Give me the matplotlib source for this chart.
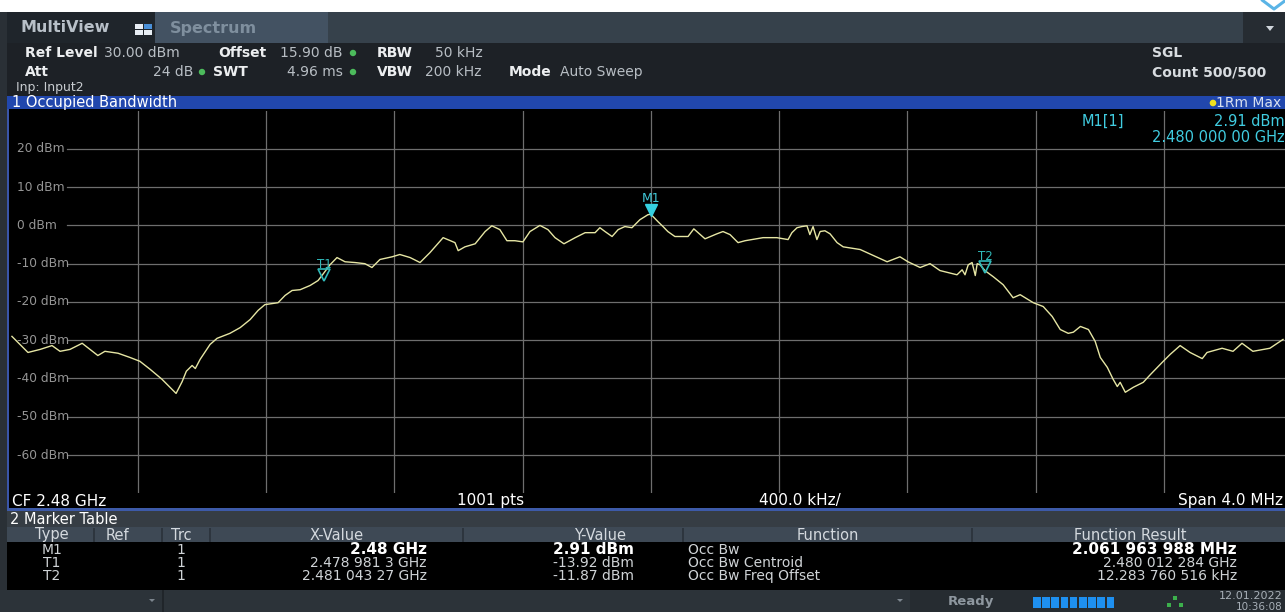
import matplotlib
matplotlib.use("Agg")
import matplotlib.pyplot as plt
from matplotlib.patches import Rectangle, Circle, Polygon
from matplotlib.transforms import ScaledTranslation, blended_transform_factory

# ---------------- data ----------------
center_ghz = 2.48
span_mhz = 4.0
div_khz = 400.0
ref_level = 30
y_bottom = -70
y_levels = [20, 10, 0, -10, -20, -30, -40, -50, -60]
y_labels = ["20 dBm", "10 dBm", "0 dBm", "-10 dBm", "-20 dBm", "-30 dBm",
            "-40 dBm", "-50 dBm", "-60 dBm"]

# trace: frequency offset from centre (MHz) and level (dBm)
freq_mhz = [-1.993, -1.968, -1.943, -1.905, -1.868, -1.843, -1.812, -1.774, -1.725, -1.703,
            -1.662, -1.625, -1.594, -1.562, -1.525, -1.500, -1.481, -1.462, -1.449, -1.431,
            -1.421, -1.406, -1.375, -1.353, -1.313, -1.281, -1.250, -1.225, -1.204, -1.163,
            -1.141, -1.119, -1.094, -1.063, -1.038, -1.026, -1.001, -0.979, -0.954, -0.923,
            -0.892, -0.870, -0.845, -0.807, -0.783, -0.751, -0.720, -0.689, -0.648, -0.611,
            -0.601, -0.580, -0.548, -0.517, -0.496, -0.471, -0.449, -0.424, -0.399, -0.377,
            -0.346, -0.321, -0.299, -0.271, -0.236, -0.205, -0.174, -0.159, -0.143, -0.121,
            -0.102, -0.081, -0.059, -0.034, -0.009, 0.000, 0.022, 0.038, 0.053, 0.075,
            0.091, 0.116, 0.134, 0.169, 0.206, 0.225, 0.247, 0.272, 0.294, 0.350,
            0.393, 0.428, 0.440, 0.456, 0.471, 0.487, 0.496, 0.506, 0.518, 0.528,
            0.543, 0.559, 0.581, 0.600, 0.653, 0.674, 0.737, 0.777, 0.802, 0.840,
            0.871, 0.902, 0.955, 0.971, 0.980, 0.990, 1.002, 1.012, 1.018, 1.027,
            1.043, 1.068, 1.099, 1.130, 1.152, 1.193, 1.224, 1.252, 1.277, 1.302,
            1.318, 1.340, 1.365, 1.386, 1.402, 1.424, 1.442, 1.455, 1.464, 1.480,
            1.505, 1.536, 1.558, 1.595, 1.620, 1.651, 1.682, 1.720, 1.735, 1.782,
            1.816, 1.844, 1.878, 1.931, 1.972]
level_dbm = [-29.0, -31.1, -33.2, -32.4, -31.4, -32.9, -32.4, -30.8, -34.0, -32.9,
             -33.4, -34.5, -35.5, -37.6, -40.2, -42.3, -43.9, -40.8, -38.1, -36.6,
             -37.4, -35.0, -31.1, -29.5, -28.2, -26.7, -24.6, -22.2, -20.7, -20.2,
             -18.3, -17.0, -16.8, -15.7, -14.4, -13.1, -10.3, -8.4, -9.5, -9.7,
             -10.0, -11.0, -8.9, -8.2, -7.6, -8.4, -9.7, -7.1, -3.2, -4.5,
             -6.6, -5.6, -4.8, -1.6, -0.1, -1.1, -4.0, -4.0, -4.3, -1.6,
             0.0, -1.1, -3.2, -4.8, -3.2, -1.9, -1.9, -0.6, -1.6, -2.9,
             -1.1, -0.3, -0.6, 1.5, 2.8, 2.91, 1.0, -0.3, -1.6, -2.9,
             -2.9, -2.9, -0.9, -3.5, -2.2, -1.6, -2.4, -4.5, -4.0, -3.2,
             -3.2, -3.7, -1.9, -0.6, -0.3, -0.1, -2.4, -0.3, -3.7, -1.6,
             -1.4, -2.2, -4.5, -5.6, -6.3, -7.1, -9.5, -8.2, -9.5, -11.0,
             -10.0, -11.8, -12.9, -11.6, -12.9, -10.3, -9.7, -13.1, -10.0, -10.3,
             -11.87, -13.4, -15.5, -18.9, -18.1, -20.2, -21.2, -23.8, -27.2, -28.2,
             -27.9, -26.4, -27.2, -30.3, -34.5, -37.1, -40.2, -42.1, -41.0, -43.6,
             -42.3, -41.0, -39.0, -35.8, -33.7, -31.4, -33.2, -34.8, -33.2, -32.1,
             -32.9, -30.8, -32.9, -32.1, -29.8]

marker_names = ["M1", "T1", "T2"]
marker_freq_mhz = [0.0, -1.0187, 1.04327]
marker_level = [2.91, -13.92, -11.87]

table_type = ["M1", "T1", "T2"]
table_trc = ["1", "1", "1"]
table_x = ["2.48 GHz", "2.478 981 3 GHz", "2.481 043 27 GHz"]
table_y = ["2.91 dBm", "-13.92 dBm", "-11.87 dBm"]
table_func = ["Occ Bw", "Occ Bw Centroid", "Occ Bw Freq Offset"]
table_res = ["2.061 963 988 MHz", "2.480 012 284 GHz", "12.283 760 516 kHz"]

# ---------------- figure ----------------
W, H = 1285, 612
fig = plt.figure(figsize=(W / 100, H / 100), dpi=100)
fig.patch.set_facecolor("#ffffff")

base = fig.add_axes([0, 0, 1, 1], zorder=0)
base.set_xlim(0, W); base.set_ylim(H, 0); base.axis("off")
top = fig.add_axes([0, 0, 1, 1], zorder=5)
top.set_xlim(0, W); top.set_ylim(H, 0); top.axis("off")
top.patch.set_alpha(0)

FONT = "DejaVu Sans"


def rect(x0, y0, x1, y1, color, z=0, ax=None):
    (ax or base).add_patch(Rectangle((x0, y0), x1 - x0, y1 - y0, facecolor=color,
                                     edgecolor="none", zorder=z))


def txt(x, y, s, size=9, color="#e0e0e0", weight="normal", ha="left", ax=None, **kw):
    (ax or top).text(x, y, s, fontsize=size, color=color, fontweight=weight, ha=ha,
                     va="center", family=FONT, **kw)


# ---- chrome backgrounds ----
rect(0, 0, W, 12, "#ffffff")
rect(0, 12, W, H, "#2a3036")          # gutter / general
rect(7, 12, 1243, 43, "#36414b")      # tab bar
rect(1243, 12, W, 43, "#262c32")
rect(7, 12, 155, 43, "#1f252b")       # MultiView tab
rect(155, 12, 328, 43, "#435262")     # Spectrum tab
rect(7, 43, W, 96, "#1d2126")         # info area
rect(7, 96, W, 109, "#2147ad")        # title bar
rect(7, 109, W, 509, "#000000")       # plot + CF row
rect(7, 109, 9, 510, "#3a55a8")       # left blue border
rect(7, 508, W, 511, "#3d5aa8")       # blue line
rect(7, 511, W, 527, "#363d44")       # "2 Marker Table"
rect(7, 527, W, 542, "#3e4955")       # table header
for sx in [94, 162, 210, 463, 683, 972]:
    rect(sx - 1, 528, sx + 1, 542, "#2d353e")
rect(7, 542, W, 590, "#000000")       # table rows
rect(0, 590, W, H, "#2c3339")         # status bar
rect(910, 590, W, H, "#262c31")
rect(162, 590, 164, H, "#20252a")

# cyan chevron top right
top.plot([1262, 1274, 1286], [0, 9, 0], color="#5ab4e6", lw=2.2, solid_capstyle="round")

# ---- tab bar ----
txt(21, 28, "MultiView", size=11.5, color="#b8c0c8", weight="bold")
for (ix, iy, c) in [(135, 24, "#e8eef4"), (144, 24, "#4a90d8"), (135, 30, "#e8eef4"), (144, 30, "#e8eef4")]:
    rect(ix, iy, ix + 8, iy + 5, c, z=3, ax=top)
txt(170, 28, "Spectrum", size=11.5, color="#7f8f9e", weight="bold")
top.add_patch(Polygon([[1266, 26], [1274, 26], [1270, 31]], closed=True, facecolor="#d0d6dc",
                      edgecolor="none"))

# ---- info area ----
LAB = "#eceef0"
VAL = "#b8bec4"
GREEN = "#4cbb5c"
txt(25, 53, "Ref Level", size=10, weight="bold", color=LAB)
txt(104, 53, "30.00 dBm", size=10, color=VAL)
txt(218, 53, "Offset", size=10, weight="bold", color=LAB)
txt(280, 53, "15.90 dB", size=10, color=VAL)
txt(377, 53, "RBW", size=10, weight="bold", color=LAB)
txt(435, 53, "50 kHz", size=10, color=VAL)
txt(25, 72, "Att", size=10, weight="bold", color=LAB)
txt(193, 72, "24 dB", size=10, color=VAL, ha="right")
txt(213, 72, "SWT", size=10, weight="bold", color=LAB)
txt(287, 72, "4.96 ms", size=10, color=VAL)
txt(377, 72, "VBW", size=10, weight="bold", color=LAB)
txt(425, 72, "200 kHz", size=10, color=VAL)
txt(509, 72, "Mode", size=10, weight="bold", color=LAB)
txt(560, 72, "Auto Sweep", size=10, color=VAL)
for (dx, dy) in [(353, 53), (202, 72), (353, 72)]:
    top.add_patch(Circle((dx, dy), 3.2, facecolor=GREEN, edgecolor="none"))
txt(16, 88, "Inp: Input2", size=9, color="#c8ccd0")
txt(1152, 53, "SGL", size=10, weight="bold", color="#d8dce0")
txt(1152, 72, "Count 500/500", size=10, weight="bold", color="#d8dce0")

# ---- title bar ----
txt(12, 103, "1 Occupied Bandwidth", size=10.5, color="#ffffff")
txt(1281, 103, "1Rm Max", size=10, color="#d8e0f0", ha="right")
top.add_patch(Circle((1213, 103), 3.3, facecolor="#f0e020", edgecolor="none"))

# ---- plot ----
x0, x1 = 9.7, 1292.0
y0, y1 = 110.6, 493.3
ax = fig.add_axes([x0 / W, 1 - y1 / H, (x1 - x0) / W, (y1 - y0) / H], zorder=2)
ax.set_facecolor("#000000")
ax.set_xlim(-span_mhz / 2, span_mhz / 2)
ax.set_ylim(y_bottom, ref_level)
for s in ax.spines.values():
    s.set_visible(False)
ax.set_xticks([]); ax.set_yticks([])

GRID = "#6e6e6e"
ndiv = int(round(span_mhz * 1000 / div_khz))
for k in range(1, ndiv):
    ax.axvline(-span_mhz / 2 + k * div_khz / 1000, color=GRID, lw=0.9, zorder=1)
for lv, lb in zip(y_levels, y_labels):
    ax.axhline(lv, xmin=(67 - x0) / (x1 - x0), xmax=1, color=GRID, lw=0.9, zorder=1)
    ax.text(0.0057, lv, lb, transform=blended_transform_factory(ax.transAxes, ax.transData),
            fontsize=8.8, color="#959595", va="center", ha="left", family=FONT, zorder=2)

ax.plot(freq_mhz, level_dbm, color="#e6e6a4", lw=1.0, zorder=4)

off_tri = ScaledTranslation(0, 4 / 100, fig.dpi_scale_trans)
for name, f, lv in zip(marker_names, marker_freq_mhz, marker_level):
    if name == "M1":
        ax.plot([f], [lv], marker="v", ms=8, color="#35d0e0", mec="#35d0e0",
                transform=ax.transData + off_tri, zorder=6)
        ax.text(f, lv, name, transform=ax.transData + ScaledTranslation(0, 16 / 100, fig.dpi_scale_trans),
                color="#40c8d8", fontsize=9, ha="center", va="center", family=FONT, zorder=6)
    else:
        ax.plot([f], [lv], marker="v", ms=8, mfc="none", mec="#30b8b8", mew=1.2,
                transform=ax.transData + off_tri, zorder=6)
        ax.text(f, lv, name, transform=ax.transData + ScaledTranslation(0, 14 / 100, fig.dpi_scale_trans),
                color="#30b8b8", fontsize=8.5, ha="center", va="center", family=FONT, zorder=6)

# marker readout
CY = "#40cce0"
txt(1082, 121, "M1[1]", size=10.5, color=CY)
txt(1285, 121, "2.91 dBm", size=10.5, color=CY, ha="right")
txt(1285, 138, "2.480 000 00 GHz", size=10.5, color=CY, ha="right")

# ---- CF row ----
txt(12, 501, "CF %.2f GHz" % center_ghz, size=11, color="#ffffff")
txt(491, 501, "1001 pts", size=11, color="#ffffff", ha="center")
txt(800, 501, "%.1f kHz/" % div_khz, size=11, color="#ffffff", ha="center")
txt(1283, 501, "Span %.1f MHz" % span_mhz, size=11, color="#ffffff", ha="right")

# ---- marker table ----
txt(10, 519, "2 Marker Table", size=10.5, color="#ffffff")
HD = "#d4d9de"
for s, cx in [("Type", 52), ("Ref", 117), ("Trc", 181), ("X-Value", 337),
              ("Y-Value", 600), ("Function", 828), ("Function Result", 1130)]:
    txt(cx, 535, s, size=10.5, color=HD, ha="center")

row_y = [550, 563, 576]
RW = "#cfd3d6"
for i, ry in enumerate(row_y):
    bold = (i == 0)
    w = "bold" if bold else "normal"
    sz = 11 if bold else 10
    c = "#ffffff" if bold else RW
    txt(52, ry, table_type[i], size=10, color=RW, ha="center")
    txt(181, ry, table_trc[i], size=10, color=RW, ha="center")
    txt(427, ry, table_x[i], size=sz, color=c, weight=w, ha="right")
    txt(634, ry, table_y[i], size=sz, color=c, weight=w, ha="right")
    txt(688, ry, table_func[i], size=10, color=RW)
    txt(1237, ry, table_res[i], size=sz, color=c, weight=w, ha="right")

# ---- status bar ----
for ax_x in [152, 900]:
    top.add_patch(Polygon([[ax_x - 3, 599], [ax_x + 3, 599], [ax_x, 602]], closed=True,
                          facecolor="#7c858e", edgecolor="none"))
txt(971, 602, "Ready", size=9.5, color="#8e979f", weight="bold", ha="center")
for k in range(9):
    sx = 1033 + k * 9.2
    rect(sx, 597, sx + 7.6, 608, "#1e90f0", z=3, ax=top)
for (gx, gy) in [(1175, 598), (1169, 605), (1181, 605)]:
    rect(gx - 2.2, gy - 1.8, gx + 2.2, gy + 1.8, "#3cb04c", z=3, ax=top)
txt(1283, 596, "12.01.2022", size=8, color="#a8b0b8", ha="right")
txt(1283, 606.5, "10:36:08", size=7.5, color="#a8b0b8", ha="right")

fig.savefig("out.png", dpi=100, facecolor=fig.get_facecolor())
